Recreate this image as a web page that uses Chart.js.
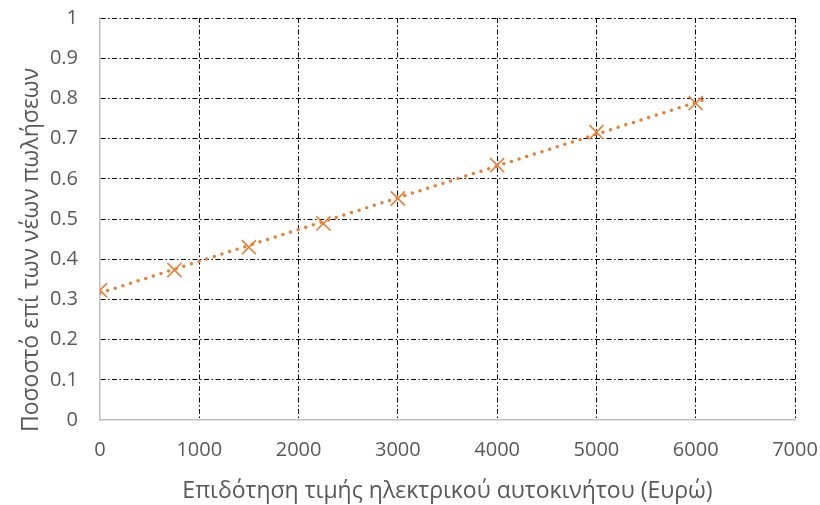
<!DOCTYPE html>
<html>
<head>
<meta charset="utf-8">
<script src="https://cdn.jsdelivr.net/npm/chart.js@4"></script>
<style>
  html, body { margin: 0; padding: 0; background: #fff; }
  #wrap { width: 820px; height: 505px; }
</style>
</head>
<body>
<div id="wrap"><canvas id="c" width="820" height="505"></canvas></div>
<script>
// Subsidy on the EV price (euro) and share of new sales
const subsidy = [0, 750, 1500, 2250, 3000, 4000, 5000, 6000];
const share = [0.323, 0.373, 0.430, 0.489, 0.551, 0.634, 0.716, 0.788];
const trendFrom = 0;
const trendTo = 6100;
const xTitle = 'Επιδότηση τιμής ηλεκτρικού αυτοκινήτου (Ευρώ)';
const yTitle = 'Ποσοστό επί των νέων πωλήσεων';

const orange = '#ED7D31';
const textGrey = '#595959';
const FONT = "'Open Sans', sans-serif";
const gridDash = [5, 2.5, 1.5, 2.5];

// Least-squares linear trend through the observations
function linearFit(xs, ys) {
  const n = xs.length;
  const mx = xs.reduce((a, b) => a + b, 0) / n;
  const my = ys.reduce((a, b) => a + b, 0) / n;
  let sxy = 0, sxx = 0;
  for (let i = 0; i < n; i++) {
    sxy += (xs[i] - mx) * (ys[i] - my);
    sxx += (xs[i] - mx) * (xs[i] - mx);
  }
  const slope = sxy / sxx;
  return { slope, intercept: my - slope * mx };
}
const fit = linearFit(subsidy, share);
const trend = [trendFrom, trendTo].map(x => ({ x, y: fit.intercept + fit.slope * x }));

const points = subsidy.map((x, i) => ({ x, y: share[i] }));

// no grid line on the zero ticks, the solid axis lines sit there
const gridColor = ctx => (ctx.tick && ctx.tick.value === 0) ? 'rgba(0,0,0,0)' : '#000000';

// vertical axis title, drawn a little below the middle of the plot
const yTitlePlugin = {
  id: 'yTitle',
  afterDraw(chart) {
    const { ctx, chartArea } = chart;
    ctx.save();
    ctx.translate(31, (chartArea.top + chartArea.bottom) / 2 + 31);
    ctx.rotate(-Math.PI / 2);
    ctx.font = `23px ${FONT}`;
    ctx.fillStyle = textGrey;
    ctx.textAlign = 'center';
    ctx.textBaseline = 'middle';
    ctx.fillText(yTitle, 0, 0);
    ctx.restore();
  }
};

new Chart(document.getElementById('c'), {
  type: 'scatter',
  data: {
    datasets: [
      {
        label: 'Τάση',
        type: 'line',
        data: trend,
        borderColor: orange,
        borderWidth: 3.5,
        borderDash: [0, 8],
        borderCapStyle: 'round',
        pointRadius: 0,
        fill: false,
        tension: 0,
        order: 2
      },
      {
        label: 'Ποσοστό',
        data: points,
        pointStyle: 'crossRot',
        pointRadius: 10,
        pointBorderWidth: 1.6,
        borderColor: orange,
        backgroundColor: orange,
        order: 1
      }
    ]
  },
  options: {
    responsive: false,
    animation: false,
    layout: { padding: { top: 18, right: 25, left: 0, bottom: 0 } },
    plugins: {
      legend: { display: false },
      tooltip: { enabled: false }
    },
    scales: {
      x: {
        type: 'linear',
        min: 0,
        max: 7000,
        afterFit: s => { s.height = 85; s.paddingLeft = 0; s.paddingRight = 0; },
        ticks: {
          stepSize: 1000,
          color: textGrey,
          font: { family: FONT, size: 20 },
          padding: 18,
          maxRotation: 0,
          callback: v => String(v)
        },
        grid: {
          color: gridColor,
          lineWidth: 1,
          drawTicks: false
        },
        border: { display: true, color: '#BFBFBF', width: 1.5, dash: gridDash },
        title: {
          display: true,
          text: xTitle,
          color: textGrey,
          font: { family: FONT, size: 23 },
          padding: { top: 0, bottom: 0 }
        }
      },
      y: {
        min: 0,
        max: 1,
        afterFit: s => { s.width = 100; s.paddingTop = 0; s.paddingBottom = 0; },
        ticks: {
          stepSize: 0.1,
          color: textGrey,
          font: { family: FONT, size: 20 },
          padding: 22,
          callback: v => Number(v.toFixed(1)).toString()
        },
        grid: {
          color: gridColor,
          lineWidth: 1,
          drawTicks: false
        },
        border: { display: true, color: '#BFBFBF', width: 1.5, dash: gridDash },
        title: { display: false }
      }
    }
  },
  plugins: [yTitlePlugin]
});
</script>
</body>
</html>
